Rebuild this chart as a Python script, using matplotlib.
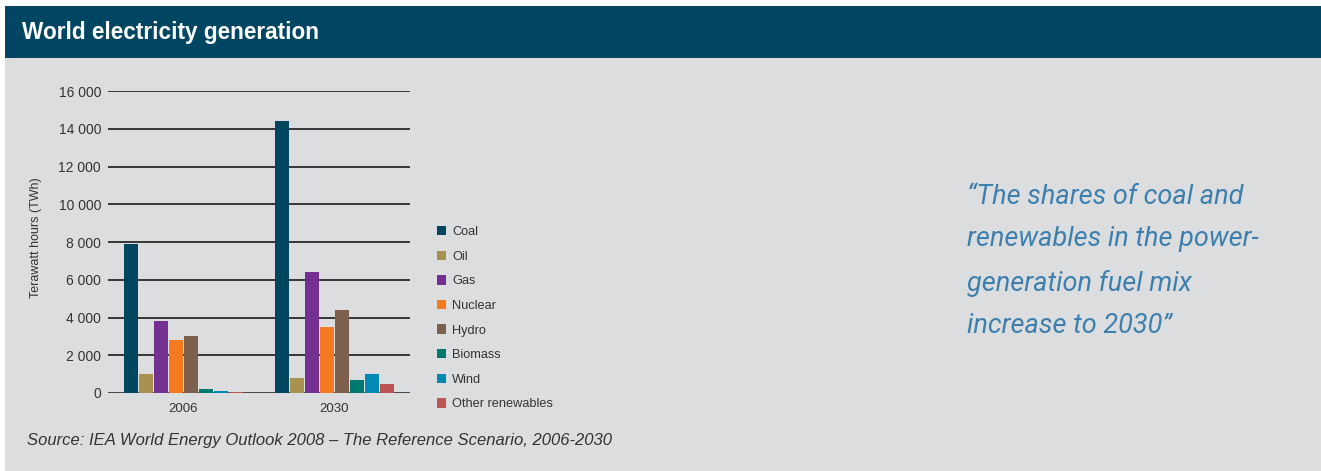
import matplotlib
matplotlib.use("Agg")
import matplotlib.pyplot as plt
from matplotlib.patches import Rectangle, Patch
import numpy as np

plt.rcParams['font.family'] = ['Liberation Sans', 'DejaVu Sans']

years = ["2006", "2030"]
sources = ["Coal", "Oil", "Gas", "Nuclear", "Hydro", "Biomass", "Wind", "Other renewables"]
values_2006 = [7900, 1000, 3800, 2800, 3000, 200, 100, 60]
values_2030 = [14400, 800, 6400, 3500, 4400, 680, 1000, 480]
colors = ["#00465F", "#A8914F", "#753192", "#F47A20", "#7D5F4E", "#007A70", "#0089B4", "#BA5553"]
yticks = [0, 2000, 4000, 6000, 8000, 10000, 12000, 14000, 16000]
ytick_labels = ["0", "2 000", "4 000", "6 000", "8 000", "10 000", "12 000", "14 000", "16 000"]

W, H = 1321, 471
fig = plt.figure(figsize=(W / 100, H / 100), dpi=100)
fig.patch.set_facecolor("white")

# background panel and header band
fig.add_artist(Rectangle((5 / W, 0), 1 - 5 / W, 1 - 58 / H, transform=fig.transFigure,
                         facecolor="#DCDDDF", edgecolor="none", zorder=0))
fig.add_artist(Rectangle((5 / W, 1 - 58 / H), 1 - 5 / W, 52 / H, transform=fig.transFigure,
                         facecolor="#004562", edgecolor="none", zorder=0))
fig.text(22 / W, 1 - 32 / H, "World electricity generation", color="white", fontsize=16.3,
         fontweight="bold", va="center", ha="left")

ax = fig.add_axes([108 / W, 1 - 393 / H, (410 - 108) / W, (393 - 91) / H])
ax.set_facecolor("none")
x = np.arange(len(years))
pitch = 0.1
for i, (s, c) in enumerate(zip(sources, colors)):
    vals = [values_2006[i], values_2030[i]]
    ax.bar(x + (i - 3.5) * pitch, vals, width=0.093, color=c, label=s, zorder=3)

ax.set_xlim(-0.5, 1.5)
ax.set_ylim(0, 16000)
ax.set_yticks(yticks)
ax.set_yticklabels(ytick_labels, fontsize=10, color="#333333")
ax.set_xticks(x)
ax.set_xticklabels(years, fontsize=9.5, color="#333333")
ax.tick_params(axis="y", length=0, pad=5)
ax.tick_params(axis="x", length=0, pad=7)
for yv in yticks:
    ax.axhline(yv, color="#1a1a1a" if yv else "#3a3a3a", lw=1.2 if yv else 2.0, zorder=2)
for sp in ax.spines.values():
    sp.set_visible(False)
ax.set_ylabel("Terawatt hours (TWh)", fontsize=9, color="#333333")
ax.yaxis.set_label_coords(-0.22, 0.513)

handles = [Patch(facecolor=c, edgecolor="none") for c in colors]
fig.legend(handles, sources, loc="upper left", bbox_to_anchor=(437 / W, 1 - 226 / H),
           frameon=False, fontsize=9.2, handlelength=0.74, handleheight=0.74,
           handletextpad=0.45, labelspacing=0.98, borderaxespad=0, borderpad=0,
           labelcolor="#333333")

quote = "\u201cThe shares of coal and\nrenewables in the power-\ngeneration fuel mix\nincrease to 2030\u201d"
fig.text(967 / W, 1 - 184 / H, quote, color="#3D80AE", fontsize=19.5, style="italic",
         family=["Roboto", "Liberation Sans", "DejaVu Sans"],
         va="top", ha="left", linespacing=1.82)

fig.text(27 / W, 1 - 440 / H, "Source: IEA World Energy Outlook 2008 \u2013 The Reference Scenario, 2006-2030",
         color="#333333", fontsize=12, style="italic", va="center", ha="left")

fig.savefig("out.png", dpi=100, facecolor=fig.get_facecolor())
